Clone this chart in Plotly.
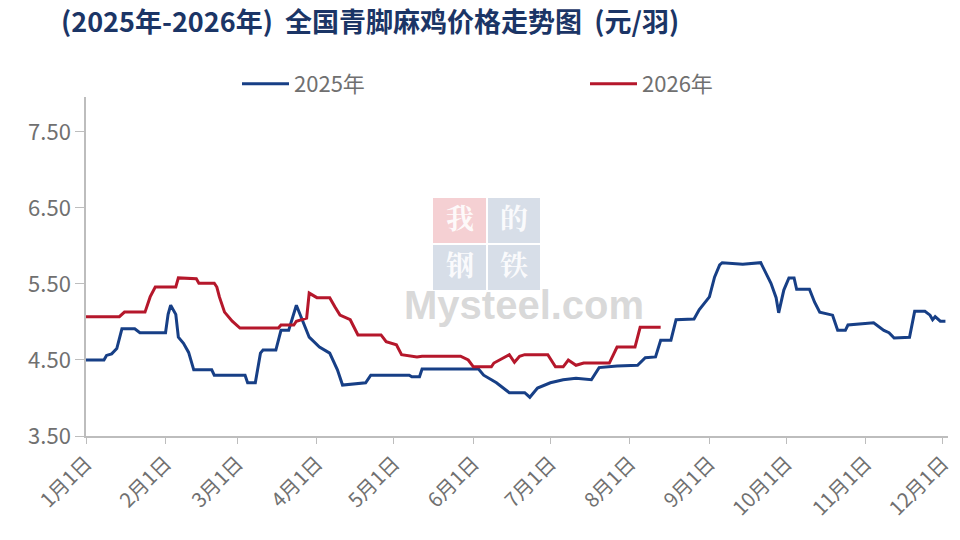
import plotly.graph_objects as go

# ---- data ----
dates_2025 = ["01-01","01-08","01-09","01-11","01-13","01-15","01-20","01-22","02-01","02-02","02-03","02-05",
              "02-06","02-08","02-10","02-12","02-19","02-20","03-04","03-05","03-08","03-10","03-11","03-16",
              "03-18","03-21","03-24","03-26","03-29","04-02","04-06","04-09","04-11","04-20","04-22","05-07",
              "05-08","05-11","05-12","06-03","06-05","06-10","06-15","06-21","06-23","06-26","07-01","07-06",
              "07-11","07-17","07-20","07-27","08-04","08-07","08-11","08-13","08-17","08-19","08-26","08-28",
              "09-01","09-03","09-05","09-06","09-14","09-21","09-23","09-25","09-27","09-28","09-30","10-02",
              "10-04","10-05","10-10","10-12","10-14","10-19","10-21","10-24","10-25","11-04","11-08","11-10",
              "11-12","11-18","11-20","11-24","11-26","11-27","11-28","11-30","12-02"]
values_2025 = [4.50,4.50,4.56,4.58,4.65,4.91,4.91,4.86,4.86,5.10,5.22,5.10,
               4.80,4.72,4.60,4.37,4.37,4.30,4.30,4.20,4.20,4.59,4.63,4.63,
               4.89,4.89,5.22,5.05,4.80,4.67,4.59,4.37,4.17,4.20,4.30,4.30,
               4.28,4.28,4.38,4.38,4.30,4.20,4.07,4.07,4.01,4.13,4.20,4.24,
               4.26,4.24,4.40,4.42,4.43,4.53,4.54,4.76,4.76,5.03,5.04,5.16,
               5.33,5.59,5.75,5.78,5.76,5.78,5.64,5.51,5.32,5.12,5.42,5.58,
               5.58,5.43,5.43,5.26,5.13,5.09,4.89,4.89,4.96,4.99,4.89,4.86,
               4.79,4.80,5.14,5.14,5.09,5.03,5.07,5.01,5.01]

dates_2026 = ["01-01","01-14","01-16","01-24","01-26","01-28","02-05","02-06","02-13","02-14","02-20","02-21",
              "02-22","02-24","02-27","03-02","03-17","03-18","03-23","03-24","03-28","03-29","04-01","04-06",
              "04-08","04-10","04-14","04-17","04-26","04-28","05-02","05-04","05-10","05-12","05-27","05-30",
              "06-01","06-08","06-09","06-13","06-15","06-17","06-19","06-21","06-30","07-03","07-06","07-08",
              "07-11","07-14","07-24","07-27","08-03","08-05","08-13"]
values_2026 = [5.07,5.07,5.13,5.13,5.33,5.46,5.46,5.58,5.57,5.51,5.51,5.46,
               5.33,5.13,5.01,4.92,4.92,4.96,4.96,5.01,5.05,5.38,5.32,5.32,
               5.20,5.09,5.03,4.83,4.83,4.74,4.70,4.57,4.54,4.55,4.55,4.50,
               4.41,4.41,4.46,4.53,4.57,4.47,4.55,4.57,4.57,4.41,4.41,4.50,
               4.43,4.46,4.46,4.67,4.67,4.93,4.93]

tick_dates = ["01-01","02-01","03-01","04-01","05-01","06-01","07-01","08-01","09-01","10-01","11-01","12-01"]
tick_labels = ["1月1日","2月1日","3月1日","4月1日","5月1日","6月1日","7月1日","8月1日","9月1日","10月1日","11月1日","12月1日"]
y_ticks = [3.5, 4.5, 5.5, 6.5, 7.5]

BASE_YEAR = "2025-"
FONT = "Noto Sans CJK SC"
BLUE = "#173f86"
RED = "#b5172b"
GREY = "#707070"

OFF = 8                      # page body margin offset
W, H = 960 - OFF, 540 - OFF
L, R, T, B = 86 - OFF, 948 - OFF, 97 - OFF, 436 - OFF

fig = go.Figure()
fig.add_trace(go.Scatter(x=[BASE_YEAR + d for d in dates_2025], y=values_2025, mode="lines",
                         name="2025年", line=dict(color=BLUE, width=3), legend="legend"))
fig.add_trace(go.Scatter(x=[BASE_YEAR + d for d in dates_2026], y=values_2026, mode="lines",
                         name="2026年", line=dict(color=RED, width=3), legend="legend2"))

def px2paper_x(px):
    return (px - OFF - L) / (R - L)

def px2paper_y(py):
    return (B - (py - OFF)) / (B - T)

leg_common = dict(orientation="h", xanchor="left", yanchor="middle", y=px2paper_y(84),
                  font=dict(family=FONT, size=22, color=GREY), itemwidth=47,
                  bgcolor="rgba(0,0,0,0)")

fig.update_layout(
    width=W, height=H,
    paper_bgcolor="white", plot_bgcolor="white",
    margin=dict(l=L, r=W - R, t=T, b=H - B, autoexpand=False),
    font=dict(family=FONT, color=GREY),
    title=dict(text="(2025年-2026年)  全国青脚麻鸡价格走势图  (元/羽)",
               x=(61 - OFF) / W, xref="container", xanchor="left",
               y=1 - (23 - OFF) / H, yref="container", yanchor="middle",
               font=dict(family=FONT, size=27, color="#1b3566", weight="bold"),
               automargin=False),
    legend=dict(x=px2paper_x(237), **leg_common),
    legend2=dict(x=px2paper_x(585), **leg_common),
    showlegend=True,
)

fig.update_xaxes(
    type="date", range=[BASE_YEAR + "01-01", BASE_YEAR + "12-03"],
    tickvals=[BASE_YEAR + d for d in tick_dates], ticktext=tick_labels,
    tickangle=-45, tickfont=dict(size=20, color=GREY, family=FONT),
    showgrid=False, showline=True, linecolor="#bdbdbd", linewidth=1.5,
    ticks="outside", ticklen=6, tickcolor="#bdbdbd", zeroline=False, automargin=False,
)
fig.update_yaxes(
    range=[3.5, 7.96], tickvals=y_ticks, tickformat=".2f",
    tickfont=dict(size=22, color=GREY, family=FONT),
    showgrid=False, showline=True, linecolor="#bdbdbd", linewidth=1.5,
    ticks="outside", ticklen=9, tickcolor="#bdbdbd", zeroline=False, automargin=False,
)

# watermark (Mysteel logo)
boxes = [((433, 198, 486, 243), "rgba(226,120,130,0.35)", "我"),
         ((488, 198, 540, 243), "rgba(140,160,190,0.35)", "的"),
         ((433, 245, 486, 290), "rgba(140,160,190,0.35)", "钢"),
         ((488, 245, 540, 290), "rgba(140,160,190,0.35)", "铁")]
for (x0, y0, x1, y1), col, ch in boxes:
    fig.add_shape(type="rect", xref="paper", yref="paper", layer="below",
                  x0=px2paper_x(x0), x1=px2paper_x(x1), y0=px2paper_y(y1), y1=px2paper_y(y0),
                  fillcolor=col, line=dict(width=0))
    fig.add_annotation(xref="paper", yref="paper", x=px2paper_x((x0+x1)/2), y=px2paper_y((y0+y1)/2 - 4),
                       text=ch, showarrow=False,
                       font=dict(family="Noto Serif CJK SC, " + FONT, size=28,
                                 color="rgba(255,255,255,0.9)", weight="bold"))
fig.add_annotation(xref="paper", yref="paper", x=px2paper_x(524), y=px2paper_y(305),
                   text="Mysteel.com", showarrow=False,
                   font=dict(family="Liberation Sans", size=40, color="rgba(200,200,200,0.7)", weight="bold"))

fig.write_html("out.html")
